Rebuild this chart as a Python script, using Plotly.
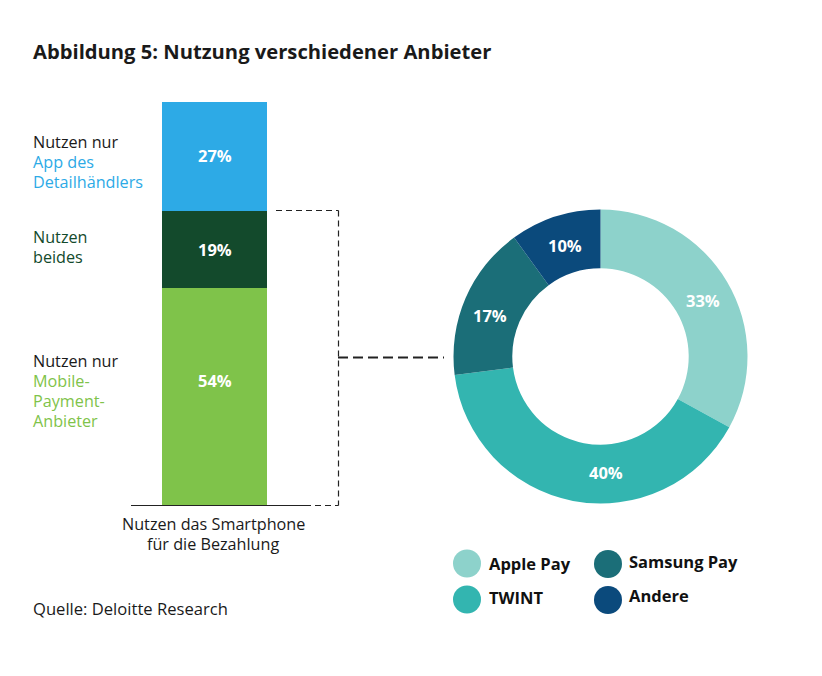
import math
import plotly.graph_objects as go

bar_labels = ["Nur Mobile-Payment", "Beides", "Nur App"]
bar_values = [54, 19, 27]
bar_colors = ["#7fc34a", "#134a2c", "#2daae6"]
bar_label_shift = [16, 0, 1]
donut_labels = ["Apple Pay", "TWINT", "Samsung Pay", "Andere"]
donut_values = [33, 40, 17, 10]
donut_colors = ["#8dd2cb", "#33b5b0", "#1b6e78", "#0b4a7c"]
donut_label_offset = [(1.5, 4), (28, 0), (-3, 6), (1, 1)]

W, H = 822, 676
FONT = "Open Sans"
def px(x): return x / W
def py(y): return 1 - y / H

fig = go.Figure()
base = 0
for n, v, c, s in zip(bar_labels, bar_values, bar_colors, bar_label_shift):
    fig.add_trace(go.Bar(x=[0], y=[v], marker=dict(color=c, line_width=0), width=1, name=n,
                         hoverinfo="skip", showlegend=False))
    fig.add_annotation(xref="x", yref="y", x=0, y=base + v / 2, yshift=s, text=f"{v}%", showarrow=False,
                       font=dict(color="white", size=16.5, family=FONT, weight=700))
    base += v

DX0, DX1, DY0, DY1 = 453.5, 747.5, 209.5, 503.5
fig.add_trace(go.Pie(values=donut_values, labels=donut_labels, hole=0.6, sort=False, direction="clockwise",
                     rotation=0, marker=dict(colors=donut_colors, line_width=0),
                     domain=dict(x=[px(DX0), px(DX1)], y=[py(DY1), py(DY0)]),
                     textinfo="none", showlegend=False, hoverinfo="skip"))

fig.update_layout(
    width=W, height=H, margin=dict(l=0, r=0, t=0, b=0), autosize=False,
    paper_bgcolor="white", plot_bgcolor="white", barmode="stack", bargap=0,
    xaxis=dict(domain=[px(162), px(267)], range=[-0.5, 0.5], visible=False),
    yaxis=dict(domain=[py(505.6), py(101.6)], range=[0, 100], visible=False),
    font=dict(family=FONT, color="#1a1a1a"),
)

def text(x, y, t, size=16.6, color="#1a1a1a", anchor="left", bold=False):
    dx = -1 if anchor == "left" else 0
    fig.add_annotation(xref="paper", yref="paper", x=px(x + dx), y=py(y - 1), text=t, showarrow=False,
                       xanchor=anchor, yanchor="middle", align=anchor, borderpad=0,
                       font=dict(size=size, color=color, family=FONT, weight=700 if bold else 400))

# donut percentage labels, from the ring's mid-angle plus a small manual nudge
cx, cy, rm = (DX0 + DX1) / 2, (DY0 + DY1) / 2, 147 * 0.8
cum, total = 0, sum(donut_values)
for v, (ox, oy) in zip(donut_values, donut_label_offset):
    a = 2 * math.pi * (cum + v / 2) / total
    text(cx + rm * math.sin(a) + ox, cy - rm * math.cos(a) + oy + 1, f"{v}%",
         size=16.5, color="white", anchor="center", bold=True)
    cum += v

text(33, 52, "Abbildung 5: Nutzung verschiedener Anbieter", size=20.2, bold=True)
blue, green, dark = "#2daae6", "#7fc34a", "#134a2c"
for y, t, c in [(143, "Nutzen nur", "#1a1a1a"), (163, "App des", blue), (183, "Detailhändlers", blue),
                (238, "Nutzen", dark), (258, "beides", dark),
                (362, "Nutzen nur", "#1a1a1a"), (382, "Mobile-", green), (402, "Payment-", green), (422, "Anbieter", green)]:
    text(33, y, t, color=c, size=16.2)
text(213, 524.5, "Nutzen das Smartphone", anchor="center", size=16.2)
text(213, 544.5, "für die Bezahlung", anchor="center", size=16.2)
text(33, 609, "Quelle: Deloitte Research")

for x, y, ty, tx, t, c in [(467, 563.5, 564, 489, "Apple Pay", donut_colors[0]),
                           (467, 599.5, 598, 489, "TWINT", donut_colors[1]),
                           (608, 564, 562, 629, "Samsung Pay", donut_colors[2]),
                           (608, 600, 596, 629, "Andere", donut_colors[3])]:
    fig.add_shape(type="circle", xref="paper", yref="paper", x0=px(x-14), x1=px(x+14),
                  y0=py(y+14), y1=py(y-14), fillcolor=c, line_width=0)
    text(tx, ty, t, size=16.5, color="#111111", bold=True)

def line(x0, y0, x1, y1, dash=None, width=1.2, color="#222222"):
    fig.add_shape(type="line", xref="paper", yref="paper", x0=px(x0), x1=px(x1), y0=py(y0), y1=py(y1),
                  line=dict(color=color, width=width, dash=dash))
line(131, 505.5, 305, 505.5)
d = "6px,4px"
line(276, 210.5, 338.5, 210.5, d)
line(338.5, 210.5, 338.5, 505.5, d)
line(305, 505.5, 338.5, 505.5, d)
line(338, 357.5, 444, 357.5, "10px,5px", width=2)

fig.write_html("out.html", config=dict(displayModeBar=False),
               post_script="document.body.style.margin='0';")
